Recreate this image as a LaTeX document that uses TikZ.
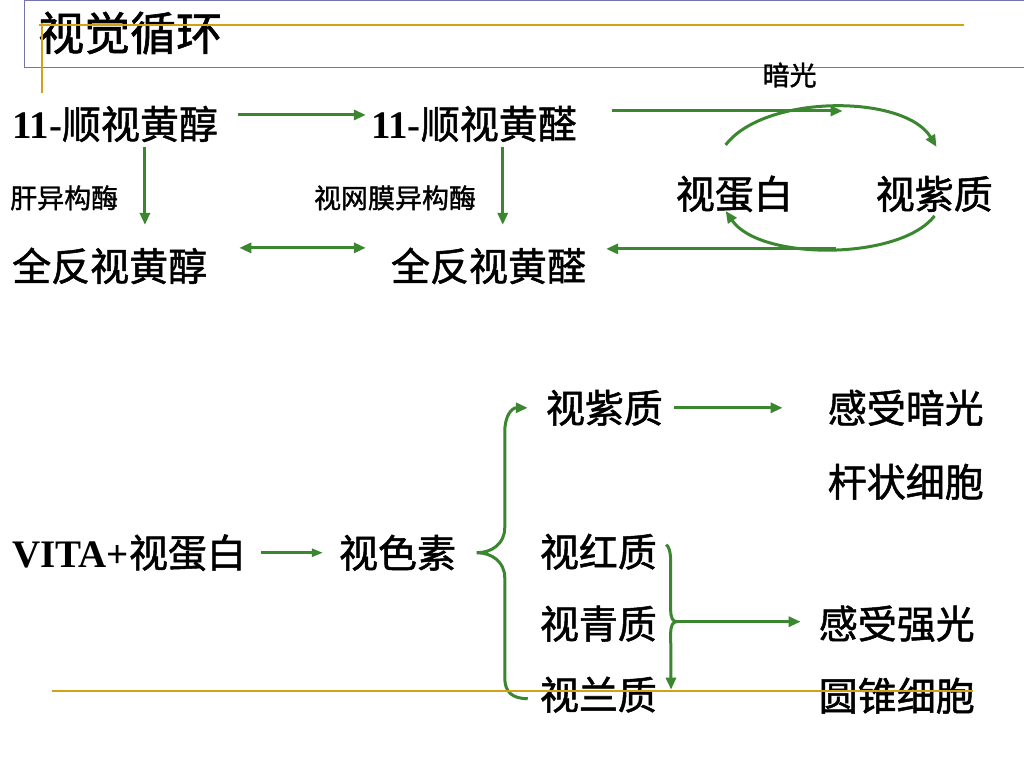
\documentclass[tikz,border=0pt]{standalone}
\usepackage{fontspec}
\setmainfont{Liberation Serif}
\newfontfamily\cjk{Noto Sans CJK SC}[FakeBold=1.3]
\usetikzlibrary{arrows.meta}
\definecolor{leafgreen}{RGB}{58,135,48}
\definecolor{rulegold}{RGB}{212,160,23}
\definecolor{framepurple}{RGB}{115,115,175}
\newcommand\lat[1]{{\rmfamily\bfseries #1}}

\begin{document}
\begin{tikzpicture}[x=1pt,y=-1pt,
    >={Triangle[length=12pt,width=10pt]},
    txt/.style={inner sep=0pt, anchor=west, font=\cjk\fontsize{39}{44}\selectfont},
    small/.style={inner sep=0pt, anchor=west, font=\cjk\fontsize{27}{30}\selectfont},
    flow/.style={draw=leafgreen, line width=3pt, ->},
    thin flow/.style={draw=leafgreen, line width=2.5pt, -{Triangle[length=11pt,width=8pt]}},
    goldrule/.style={draw=rulegold, line width=2pt}]
    \fill[white] (0,0) rectangle (1024,768);

    % Title
    \node[inner sep=0pt, anchor=west, font=\cjk\fontsize{46}{50}\selectfont] (title) at (38,33) {视觉循环};
    \draw[framepurple, line width=1pt] (1024,0.5) -- (25,0.5) -- (25,68) -- (1024,68);
    \draw[goldrule] (39,25) -- (964,25);
    \draw[goldrule] (42,23) -- (42,93);

    % Visual cycle
    \node[txt] (cisol) at (12,124) {\lat{11-}顺视黄醇};
    \node[txt] (cisal) at (371,124) {\lat{11-}顺视黄醛};
    \node[small] (liver) at (10,198) {肝异构酶};
    \node[small] (retina) at (314,198) {视网膜异构酶};
    \node[txt] (transol) at (12,266) {全反视黄醇};
    \node[txt] (transal) at (391,266) {全反视黄醛};
    \node[small, anchor=center] (dark) at (790,75) {暗光};
    \node[txt] (opsin) at (676,194) {视蛋白};
    \node[txt] (rhod) at (876,194) {视紫质};
    \coordinate (lightin) at (843,111);
    \coordinate (lightout) at (836,249);

    \draw[flow] ([shift={(20,-9)}]cisol.east) -- ([shift={(-5,-9)}]cisal.west);
    \draw[flow] ([shift={(133,23)}]cisol.west) -- ([shift={(133,-41)}]transol.west);
    \draw[flow] ([shift={(132,23)}]cisal.west) -- ([shift={(112,-41)}]transal.west);
    \draw[flow, <->] ([shift={(32,-18)}]transol.east) -- ([shift={(-25,-18)}]transal.west);
    \draw[flow] ([shift={(35,-13)}]cisal.east) -- (lightin);
    \draw[flow] ([shift={(50,-49)}]opsin.west) .. controls (765,94) and (905,94) .. ([shift={(61,-47)}]rhod.west);
    \draw[flow] ([shift={(59,22)}]rhod.west) .. controls (900,261) and (760,261) .. ([shift={(50,17)}]opsin.west);
    \draw[flow] (lightout) -- ([shift={(20,-17)}]transal.east);

    % Visual pigments
    \node[txt] (vita) at (12,553) {\lat{VITA+}视蛋白};
    \node[txt] (pigment) at (339,553) {视色素};
    \node[txt] (rhodb) at (546,408) {视紫质};
    \node[txt] (dim) at (828,408) {感受暗光};
    \node[txt] (rodcell) at (828,482) {杆状细胞};
    \node[txt] (redpig) at (540,552) {视红质};
    \node[txt] (greenpig) at (540,624) {视青质};
    \node[txt] (bluepig) at (540,695) {视兰质};
    \node[txt] (bright) at (819,624) {感受强光};
    \node[txt] (cone) at (819,696) {圆锥细胞};
    \coordinate (conetip) at (677,622);

    \draw[thin flow] ([xshift=15pt]vita.east) -- ([xshift=-16pt]pigment.west);
    \draw[flow] ([xshift=11pt]rhodb.east) -- ([xshift=-45pt]dim.west);
    \draw[flow] ([shift={(-12,4)}]bluepig.west) .. controls (512,699) and (505,692) .. (505,678)
        -- (505,578) .. controls (505,562) and (492,553) .. (477,553)
        .. controls (492,553) and (505,544) .. (505,528)
        -- (505,432) .. controls (505,416) and (512,408) .. ([shift={(-18,0)}]rhodb.west);
    \draw[flow] ([shift={(9,-7)}]redpig.east) .. controls (669,546) and (671,552) .. (671,562)
        -- (671,610) .. controls (671,618) and (673,622) .. (conetip)
        .. controls (673,622) and (671,626) .. (671,634) -- ([shift={(14,-5)}]bluepig.east);
    \draw[flow] (conetip) -- ([shift={(-18,-2)}]bright.west);

    \draw[goldrule] (52,691) -- (973,691);
\end{tikzpicture}
\end{document}
